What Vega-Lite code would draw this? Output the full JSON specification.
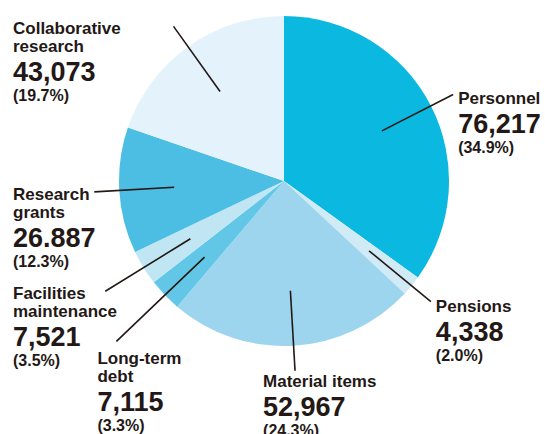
{
  "$schema": "https://vega.github.io/schema/vega-lite/v6.json",
  "width": 522,
  "height": 362,
  "autosize": {"type": "none"},
  "padding": {"left": 23, "top": 0, "right": 0, "bottom": 72},
  "background": "white",
  "config": {"view": {"stroke": null}},
  "data": {
    "values": [
      {"category": "Personnel", "name": ["Personnel"], "value": 76217, "shown": "76,217", "pct": 34.9},
      {"category": "Pensions", "name": ["Pensions"], "value": 4338, "shown": "4,338", "pct": 2.0},
      {"category": "Material items", "name": ["Material items"], "value": 52967, "shown": "52,967", "pct": 24.3},
      {"category": "Long-term debt", "name": ["Long-term", "debt"], "value": 7115, "shown": "7,115", "pct": 3.3},
      {"category": "Facilities maintenance", "name": ["Facilities", "maintenance"], "value": 7521, "shown": "7,521", "pct": 3.5},
      {"category": "Research grants", "name": ["Research", "grants"], "value": 26887, "shown": "26.887", "pct": 12.3},
      {"category": "Collaborative research", "name": ["Collaborative", "research"], "value": 43073, "shown": "43,073", "pct": 19.7}
    ]
  },
  "transform": [
    {"joinaggregate": [{"op": "sum", "field": "value", "as": "total"}]},
    {"window": [{"op": "sum", "field": "value", "as": "cum"}, {"op": "row_number", "as": "idx"}], "frame": [null, 0]},
    {"calculate": "360 * (datum.cum - datum.value / 2) / datum.total", "as": "deg"},
    {"calculate": "datum.deg * PI / 180", "as": "rad"},
    {"calculate": "datum.deg > 200 && datum.deg < 250 ? (datum.deg < 232 ? 232 : 210) : 190", "as": "r2"},
    {"calculate": "110 * sin(datum.rad)", "as": "x1"},
    {"calculate": "-110 * cos(datum.rad)", "as": "y1"},
    {"calculate": "datum.r2 * sin(datum.rad)", "as": "ex"},
    {"calculate": "-datum.r2 * cos(datum.rad)", "as": "ey"},
    {"calculate": "datum.deg < 160 ? datum.ex + 5 : (datum.deg < 200 ? datum.ex - 32 : (datum.deg < 232 ? datum.ex - 19 : -271))", "as": "lx"},
    {"calculate": "datum.deg < 160 ? datum.ey - 3 : (datum.deg < 200 ? datum.ey + 3 : (datum.deg < 232 ? datum.ey + 10 : datum.ey - 5))", "as": "top"},
    {"calculate": "datum.top + 13", "as": "nameY"},
    {"calculate": "datum.nameY + 18 * (length(datum.name) - 1) + 29", "as": "valY"},
    {"calculate": "datum.valY + 20", "as": "pctY"},
    {"calculate": "'(' + format(datum.pct, '.1f') + '%)'", "as": "pctText"}
  ],
  "layer": [
    {
      "mark": {"type": "arc", "outerRadius": 165, "stroke": null},
      "encoding": {
        "theta": {"field": "value", "type": "quantitative", "stack": true},
        "order": {"field": "idx", "type": "quantitative"},
        "color": {
          "field": "category",
          "type": "nominal",
          "legend": null,
          "scale": {
            "domain": ["Personnel", "Pensions", "Material items", "Long-term debt", "Facilities maintenance", "Research grants", "Collaborative research"],
            "range": ["#0bb8df", "#d0ebf6", "#9dd5ef", "#62c6e7", "#c0e6f4", "#4cbee4", "#e3f2fb"]
          }
        }
      }
    },
    {
      "mark": {"type": "rule", "color": "#231815", "strokeWidth": 1.6},
      "encoding": {
        "x": {"field": "x1", "type": "quantitative", "axis": null, "scale": {"domain": [-261, 261], "nice": false, "zero": false}},
        "y": {"field": "y1", "type": "quantitative", "axis": null, "scale": {"domain": [-181, 181], "nice": false, "zero": false, "reverse": true}},
        "x2": {"field": "ex"},
        "y2": {"field": "ey"}
      }
    },
    {
      "mark": {"type": "text", "align": "left", "baseline": "alphabetic", "font": "Liberation Sans", "fontWeight": "bold", "fontSize": 17, "lineHeight": 18, "color": "#231815"},
      "encoding": {
        "x": {"field": "lx", "type": "quantitative", "axis": null, "scale": {"domain": [-261, 261], "nice": false, "zero": false}},
        "y": {"field": "nameY", "type": "quantitative", "axis": null, "scale": {"domain": [-181, 181], "nice": false, "zero": false, "reverse": true}},
        "text": {"field": "name"}
      }
    },
    {
      "mark": {"type": "text", "align": "left", "baseline": "alphabetic", "font": "Liberation Sans", "fontWeight": "bold", "fontSize": 27, "color": "#231815"},
      "encoding": {
        "x": {"field": "lx", "type": "quantitative", "axis": null, "scale": {"domain": [-261, 261], "nice": false, "zero": false}},
        "y": {"field": "valY", "type": "quantitative", "axis": null, "scale": {"domain": [-181, 181], "nice": false, "zero": false, "reverse": true}},
        "text": {"field": "shown"}
      }
    },
    {
      "mark": {"type": "text", "align": "left", "baseline": "alphabetic", "font": "Liberation Sans", "fontWeight": "bold", "fontSize": 16, "color": "#231815"},
      "encoding": {
        "x": {"field": "lx", "type": "quantitative", "axis": null, "scale": {"domain": [-261, 261], "nice": false, "zero": false}},
        "y": {"field": "pctY", "type": "quantitative", "axis": null, "scale": {"domain": [-181, 181], "nice": false, "zero": false, "reverse": true}},
        "text": {"field": "pctText"}
      }
    }
  ]
}
